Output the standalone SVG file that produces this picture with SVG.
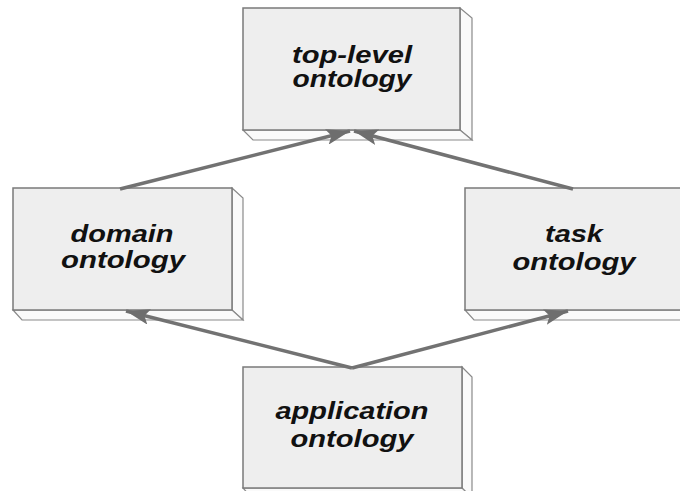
<svg xmlns="http://www.w3.org/2000/svg" width="680" height="491" viewBox="0 0 680 491">
<defs>
<style>
.front{fill:#eeeeee;stroke:#7a7a7a;stroke-width:1.5}
.side{fill:#fafafa;stroke:#8a8a8a;stroke-width:1.2}
.lbl{font-family:"Liberation Sans",Arial,sans-serif;font-size:23px;font-weight:bold;font-style:italic;fill:#111111;text-anchor:middle}
.conn{stroke:#727272;stroke-width:3.5;fill:none;marker-end:url(#ah)}
</style>
<marker id="ah" markerUnits="userSpaceOnUse" markerWidth="26" markerHeight="16" refX="24" refY="8" orient="auto">
<path d="M0,0 L24,8 L0,16 L5,8 z" fill="#6e6e6e"/>
</marker>
</defs>
<rect width="680" height="491" fill="#ffffff"/>
<g id="top-level">
<polygon class="side" points="460,8 472,18 472,140 460,130"/>
<polygon class="side" points="243,130 460,130 472,140 253,140"/>
<rect class="front" x="243" y="8" width="217" height="122"/>
<text class="lbl" x="352" y="63" textLength="120" lengthAdjust="spacingAndGlyphs">top-level</text>
<text class="lbl" x="352" y="87" textLength="119" lengthAdjust="spacingAndGlyphs">ontology</text>
</g>
<g id="domain">
<polygon class="side" points="232,188 243,198 243,320 232,310"/>
<polygon class="side" points="13,310 232,310 243,320 22,320"/>
<rect class="front" x="13" y="188" width="219" height="122"/>
<text class="lbl" x="122" y="242" textLength="103" lengthAdjust="spacingAndGlyphs">domain</text>
<text class="lbl" x="123" y="268" textLength="124" lengthAdjust="spacingAndGlyphs">ontology</text>
</g>
<g id="task">
<polygon class="side" points="682,188 693,198 693,320 682,310"/>
<polygon class="side" points="465,310 682,310 693,320 474,320"/>
<rect class="front" x="465" y="188" width="217" height="122"/>
<text class="lbl" x="574" y="242" textLength="58" lengthAdjust="spacingAndGlyphs">task</text>
<text class="lbl" x="574" y="270" textLength="123" lengthAdjust="spacingAndGlyphs">ontology</text>
</g>
<g id="application">
<polygon class="side" points="462,367 472,377 472,498 462,488"/>
<polygon class="side" points="243,488 462,488 472,498 252,498"/>
<rect class="front" x="243" y="367" width="219" height="121"/>
<text class="lbl" x="352" y="419" textLength="153" lengthAdjust="spacingAndGlyphs">application</text>
<text class="lbl" x="352" y="447" textLength="123" lengthAdjust="spacingAndGlyphs">ontology</text>
</g>
<g id="connectors">
<line class="conn" x1="120" y1="189" x2="350" y2="131"/>
<line class="conn" x1="573" y1="189" x2="354" y2="131"/>
<line class="conn" x1="352" y1="368" x2="126" y2="311"/>
<line class="conn" x1="352" y1="368" x2="568" y2="311"/>
</g>
</svg>
